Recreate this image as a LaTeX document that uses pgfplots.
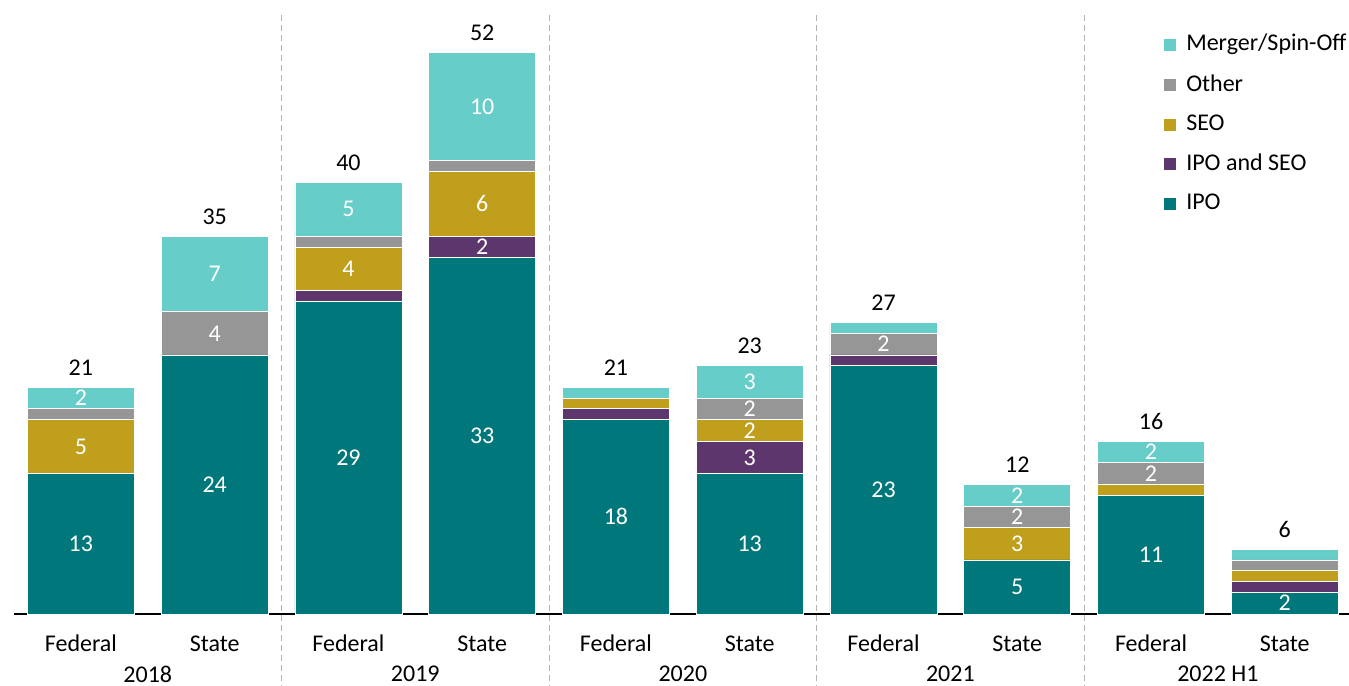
\documentclass[border=0pt]{standalone}
\usepackage{fontspec}
\setmainfont{Carlito}
\usepackage{pgfplots}
\usepackage{pgfplotstable}
\pgfplotsset{compat=1.18}

\definecolor{cIPO}{RGB}{0,119,122}
\definecolor{cBoth}{RGB}{94,54,110}
\definecolor{cSEO}{RGB}{192,159,29}
\definecolor{cOther}{RGB}{150,150,150}
\definecolor{cMerger}{RGB}{102,205,200}

% one row per bar: 2018 Federal, 2018 State, 2019 Federal, ...
\pgfplotstableread{
x ipo iposeo seo other merger total
0 13 0 5 1 2  21
1 24 0 0 4 7  35
2 29 1 4 1 5  40
3 33 2 6 1 10 52
4 18 1 1 0 1  21
5 13 3 2 2 3  23
6 23 1 0 2 1  27
7 5  0 3 2 2  12
8 11 0 1 2 2  16
9 2  1 1 1 1  6
}\deals

\pgfplotsset{
  frame/.style={scale only axis, width=667.5pt, height=299.5pt,
    xmin=-0.5, xmax=9.48, ymin=0, ymax=55.5, clip=false,
    /pgf/number format/assume math mode=true},
  seg/.style={fill=#1, draw=white, line width=0.4pt},
  % stacked segments get their label in the middle; segments of 1 stay blank
  lbl/.style={
    visualization depends on={\thisrow{#1}\as\segval},
    nodes near coords={\ifdim\segval pt>1.5pt \pgfmathprintnumber{\segval}\fi},
    every node near coord/.append style={anchor=center, text=white},
  },
}

\begin{document}
\fontsize{12}{14.4}\selectfont
\begin{tikzpicture}
\begin{axis}[
  frame,
  ybar stacked, bar width=0.8,
  axis x line=bottom, axis y line=none,
  x axis line style={-, black, line width=0.8pt},
  xtick={0,...,9},
  xticklabels={Federal,State,Federal,State,Federal,State,Federal,State,Federal,State},
  xticklabel style={anchor=center, yshift=-14.75pt},
  extra x ticks={0.5,2.5,4.5,6.5,8.5},
  extra x tick labels={2018,2019,2020,2021,2022 H1},
  extra x tick style={xticklabel style={anchor=center, yshift=-15.25pt}},
  major tick length=0pt,
  ytick=\empty,
  reverse legend,
  legend style={at={(0.8607,0.975)}, anchor=north west, draw=none, fill=none,
    inner sep=0pt, row sep=6pt, cells={anchor=west}},
  legend image code/.code={\fill[#1] (0pt,-3.25pt) rectangle (6.5pt,3.25pt);
    \path (9pt,0pt);},
]
\addplot[seg=cIPO, lbl=ipo] table[x=x, y=ipo] {\deals};
\addplot[seg=cBoth, lbl=iposeo] table[x=x, y=iposeo] {\deals};
\addplot[seg=cSEO, lbl=seo] table[x=x, y=seo] {\deals};
\addplot[seg=cOther, lbl=other] table[x=x, y=other] {\deals};
\addplot[seg=cMerger, lbl=merger] table[x=x, y=merger] {\deals};
\legend{IPO,IPO and SEO,SEO,Other,Merger/Spin-Off}

\pgfplotsinvokeforeach{1.5,3.5,5.5,7.5}{
  \draw[gray!60, line width=0.5pt, dash pattern=on 3pt off 2pt]
    ({axis cs:#1,0}|-{rel axis cs:0,1}) -- ({axis cs:#1,0}|-{rel axis cs:0,-0.1202});
}
\coordinate (bbl) at (rel axis cs:-0.0105,-0.1202);
\coordinate (btr) at (rel axis cs:1,1.025);
\end{axis}

% totals above each stack, on an identical unstacked axis
\begin{axis}[frame, hide axis]
\addplot[draw=none, mark=none, nodes near coords, point meta=y,
  every node near coord/.append style={anchor=south, text=black, yshift=1.75pt}]
  table[x=x, y=total] {\deals};
\end{axis}
\pgfresetboundingbox
\path[use as bounding box] (bbl) rectangle (btr);
\end{tikzpicture}
\end{document}
